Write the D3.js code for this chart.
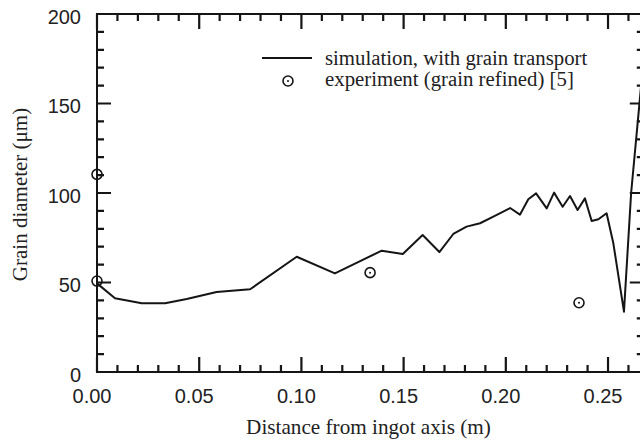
<!DOCTYPE html>
<html>
<head>
<meta charset="utf-8">
<script src="https://cdn.jsdelivr.net/npm/d3@7"></script>
<style>
  html, body { margin: 0; padding: 0; background: #fff; }
  svg { display: block; }
</style>
</head>
<body>
<svg id="chart" width="640" height="443"></svg>
<script>
// ---- data ----
const simX = [0, 0.0088, 0.0219, 0.0333, 0.0439, 0.0585, 0.0749, 0.0977, 0.1164, 0.1393, 0.1496, 0.1593, 0.1675, 0.1743, 0.1808, 0.1874, 0.1939, 0.2021, 0.2069, 0.2110, 0.2148, 0.2200, 0.2236, 0.2278, 0.2314, 0.2351, 0.2387, 0.2420, 0.2453, 0.2493, 0.2526, 0.2578, 0.2613, 0.2670];
const simY = [49.5, 41.2, 38.4, 38.4, 40.8, 44.7, 46.2, 64.4, 55.1, 67.8, 65.9, 76.5, 67.0, 77.1, 81.2, 83.1, 86.8, 91.6, 87.9, 96.5, 99.8, 91.4, 100.2, 92.3, 98.3, 90.5, 97.0, 84.4, 85.3, 88.7, 71.9, 33.7, 100, 170];
const expX = [0.0, 0.0, 0.1336, 0.2358];
const expY = [110.4, 50.8, 55.5, 38.7];
const xMajorTicks = [0.00, 0.05, 0.10, 0.15, 0.20, 0.25];
const xMinorTicks = [0.01, 0.02, 0.03, 0.04, 0.06, 0.07, 0.08, 0.09, 0.11, 0.12, 0.13, 0.14, 0.16, 0.17, 0.18, 0.19, 0.21, 0.22, 0.23, 0.24, 0.26];
const yMajorTicks = [0, 50, 100, 150, 200];
const yMinorTicks = [10, 20, 30, 40, 60, 70, 80, 90, 110, 120, 130, 140, 160, 170, 180, 190];
const legendLabels = ["simulation, with grain transport", "experiment (grain refined) [5]"];
const xTitle = "Distance from ingot axis (m)";
const yTitle = "Grain diameter (\u03bcm)";

// ---- layout ----
const mLeft = 97, mTop = 14, plotW = 546.8, plotH = 358;
const xMax = 0.2675;
const svg = d3.select("#chart");
const x = d3.scaleLinear().domain([0, xMax]).range([0, plotW]);
const y = d3.scaleLinear().domain([0, 200]).range([plotH, 0]);
const g = svg.append("g").attr("transform", `translate(${mLeft},${mTop})`);

const tickFont = "'Liberation Sans', Arial, Helvetica, sans-serif";
const serif = "'Liberation Serif', 'Times New Roman', serif";
const ink = "#151515";

// frame (axis lines)
const framePath = d3.path();
framePath.moveTo(x(0), y(200));
framePath.lineTo(x(0), y(0));
framePath.lineTo(x(xMax), y(0));
framePath.lineTo(x(xMax), y(200));
framePath.closePath();
g.append("path").attr("d", framePath.toString())
  .attr("fill", "none").attr("stroke", ink).attr("stroke-width", 2);

// ticks (inward), drawn as one path
const tp = d3.path();
function addXTicks(vals, len) {
  vals.forEach(d => {
    tp.moveTo(x(d), y(0)); tp.lineTo(x(d), y(0) - len);
    tp.moveTo(x(d), y(200)); tp.lineTo(x(d), y(200) + len);
  });
}
function addYTicks(vals, len) {
  vals.forEach(d => {
    tp.moveTo(x(0), y(d)); tp.lineTo(x(0) + len, y(d));
    tp.moveTo(x(xMax), y(d)); tp.lineTo(x(xMax) - len, y(d));
  });
}
addXTicks(xMinorTicks, 7);
addXTicks(xMajorTicks, 15);
addYTicks(yMinorTicks, 7);
addYTicks(yMajorTicks, 14);
g.append("path").attr("d", tp.toString())
  .attr("fill", "none").attr("stroke", ink).attr("stroke-width", 2.2);

// tick labels
const fx = d3.format(".2f");
g.append("g").selectAll("text").data(xMajorTicks).join("text")
  .attr("x", d => x(d) - 5).attr("y", y(0) + 31).attr("text-anchor", "middle")
  .attr("font-family", tickFont).attr("font-size", 20).attr("fill", "#222")
  .text(d => fx(d));
g.append("g").selectAll("text").data(yMajorTicks).join("text")
  .attr("x", -16).attr("y", d => y(d) + 9.5).attr("text-anchor", "end")
  .attr("font-family", tickFont).attr("font-size", 20).attr("fill", "#222")
  .text(d => d);

// simulation line
const simData = simX.map((v, i) => [v, simY[i]]);
g.append("path").datum(simData)
  .attr("fill", "none").attr("stroke", ink).attr("stroke-width", 2)
  .attr("stroke-linejoin", "round")
  .attr("d", d3.line().x(d => x(d[0])).y(d => y(d[1])));

// experiment markers
const expData = expX.map((v, i) => [v, expY[i]]);
const mk = g.append("g").selectAll("g").data(expData).join("g")
  .attr("transform", d => `translate(${x(d[0])},${y(d[1])})`);
mk.append("circle").attr("r", 5).attr("fill", "none").attr("stroke", ink).attr("stroke-width", 1.6);
mk.append("circle").attr("r", 1).attr("fill", ink);

// legend
const lg = svg.append("g");
lg.append("line").attr("x1", 262).attr("x2", 312).attr("y1", 58).attr("y2", 58)
  .attr("stroke", ink).attr("stroke-width", 2);
lg.append("circle").attr("cx", 288).attr("cy", 81).attr("r", 5).attr("fill", "none")
  .attr("stroke", ink).attr("stroke-width", 1.6);
lg.append("circle").attr("cx", 288).attr("cy", 81).attr("r", 1).attr("fill", ink);
lg.selectAll("text").data(legendLabels).join("text")
  .attr("x", 325).attr("y", (d, i) => 64.5 + i * 21.5)
  .attr("font-family", serif).attr("font-size", 20.8).attr("fill", "#222")
  .text(d => d);

// axis titles
svg.append("text").attr("x", 368.5).attr("y", 434).attr("text-anchor", "middle")
  .attr("font-family", serif).attr("font-size", 21.2).attr("fill", "#222").text(xTitle);
svg.append("text").attr("transform", "translate(27,194.5) rotate(-90)").attr("text-anchor", "middle")
  .attr("font-family", serif).attr("font-size", 21).attr("fill", "#222").text(yTitle);
</script>
</body>
</html>
